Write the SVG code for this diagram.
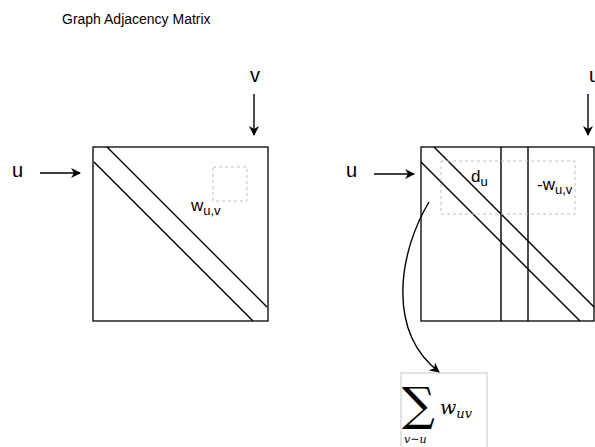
<svg xmlns="http://www.w3.org/2000/svg" width="595" height="447" viewBox="0 0 595 447">
<style>
.t{font-family:"Liberation Sans",Arial,Helvetica,sans-serif;fill:#000}
.ln{stroke:#000;stroke-width:1.4;fill:none}
.box{stroke:#000;stroke-width:1.3;fill:#fff}
.dash{stroke:#c0c0c0;stroke-width:1;fill:none;stroke-dasharray:3 3}
.m{font-family:"DejaVu Serif","Liberation Serif",serif;fill:#000}
</style>
<defs>
<marker id="ah" viewBox="0 0 10 10" refX="9" refY="5" markerWidth="10" markerHeight="10" markerUnits="userSpaceOnUse" orient="auto">
<path d="M0,0 L10,5 L0,10 L3,5 Z" fill="#000"/>
</marker>
</defs>
<rect width="595" height="447" fill="#fff"/>
<text id="title" class="t" x="62" y="24" font-size="14">Graph Adjacency Matrix</text>

<g id="adjacency-matrix">
<rect class="box" x="93" y="147" width="175" height="174"/>
<line class="ln" x1="94" y1="162" x2="253" y2="321"/>
<line class="ln" x1="107" y1="147" x2="267" y2="307"/>
<rect class="dash" x="213" y="167" width="34" height="34"/>
<text class="t" x="191" y="211" font-size="17">w<tspan font-size="13" dy="4">u,v</tspan></text>
</g>

<g id="laplacian-matrix">
<rect class="box" x="421" y="147" width="173" height="174"/>
<line class="ln" x1="501" y1="147" x2="501" y2="321"/>
<line class="ln" x1="528" y1="147" x2="528" y2="321"/>
<line class="ln" x1="421" y1="162" x2="580" y2="321"/>
<line class="ln" x1="434" y1="147" x2="594" y2="307"/>
<rect class="dash" x="441" y="161" width="134" height="53"/>
<text class="t" x="471" y="182" font-size="17">d<tspan font-size="13" dy="4">u</tspan></text>
<text class="t" x="537" y="190" font-size="17">-w<tspan font-size="13" dy="4">u,v</tspan></text>
</g>

<g id="label-u-left"><text class="t" x="12" y="177" font-size="20">u</text></g>
<g id="label-v-left"><text class="t" x="250" y="82" font-size="20">v</text></g>
<g id="label-u-right"><text class="t" x="346" y="177" font-size="20">u</text></g>
<g id="label-u-top-right"><text class="t" x="589" y="82" font-size="20">u</text></g>

<g id="degree-formula">
<rect x="401" y="373" width="86" height="80" fill="#fff" stroke="#c8c8c8" stroke-width="1"/>
<text class="m" x="402" y="420" font-size="46">∑</text>
<text class="m" x="440" y="414" font-size="19" font-style="italic">w<tspan font-size="13" dy="4">uv</tspan></text>
<text class="m" x="404" y="443" font-size="11" font-style="italic">v∼u</text>
</g>

<g id="connectors">
<line class="ln" x1="40" y1="173" x2="80" y2="173" marker-end="url(#ah)"/>
<line class="ln" x1="254" y1="94" x2="254" y2="135" marker-end="url(#ah)"/>
<line class="ln" x1="374" y1="174" x2="414" y2="174" marker-end="url(#ah)"/>
<line class="ln" x1="588" y1="94" x2="588" y2="135" marker-end="url(#ah)"/>
<path class="ln" d="M429,202 C400,250 385,330 439,372" marker-end="url(#ah)"/>
</g>
</svg>
